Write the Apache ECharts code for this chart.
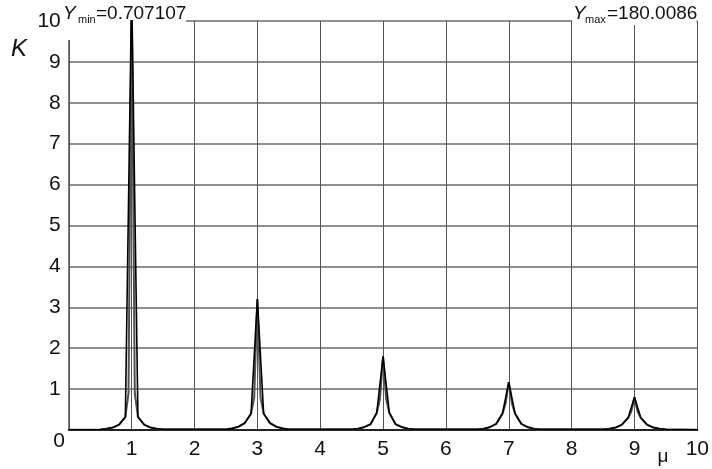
<!DOCTYPE html>
<html>
<head>
<meta charset="utf-8">
<script src="https://cdn.jsdelivr.net/npm/echarts@6/dist/echarts.min.js"></script>
<style>html,body{margin:0;padding:0;background:#fff}#c{width:712px;height:469px}</style>
</head>
<body>
<div id="c"></div>
<script>
// Tick labels
var xTicks = [1, 2, 3, 4, 5, 6, 7, 8, 9, 10];
var yTicks = [1, 2, 3, 4, 5, 6, 7, 8, 9, 10];
// Outer curve (coarse sampling) : [mu, K]
var curveCoarse = [
  [0,0.005],[0.5,0.01],[0.6,0.03],[0.7,0.06],[0.8,0.13],[0.9,0.32],[1.0,10.8],[1.1,0.32],[1.2,0.13],[1.3,0.06],[1.4,0.03],[1.5,0.015],
  [2.5,0.015],[2.6,0.04],[2.7,0.08],[2.8,0.17],[2.9,0.4],[3.0,3.2],[3.1,0.4],[3.2,0.17],[3.3,0.08],[3.4,0.04],[3.5,0.015],
  [4.5,0.015],[4.6,0.03],[4.7,0.07],[4.8,0.14],[4.9,0.42],[5.0,1.8],[5.1,0.42],[5.2,0.14],[5.3,0.07],[5.4,0.03],[5.5,0.015],
  [6.5,0.015],[6.6,0.03],[6.7,0.07],[6.8,0.15],[6.9,0.4],[7.0,1.17],[7.1,0.4],[7.2,0.15],[7.3,0.07],[7.4,0.03],[7.5,0.015],
  [8.5,0.015],[8.6,0.03],[8.7,0.06],[8.8,0.13],[8.9,0.3],[9.0,0.8],[9.1,0.3],[9.2,0.13],[9.3,0.06],[9.4,0.03],[9.5,0.015],[10,0.005]
];
// Inner curve (finer sampling near the peaks)
var curveFine = [
  [0,0.005],[0.5,0.01],[0.6,0.03],[0.7,0.06],[0.8,0.13],[0.9,0.32],[0.95,0.9],[1.0,10.8],[1.05,0.9],[1.1,0.32],[1.2,0.13],[1.3,0.06],[1.4,0.03],[1.5,0.015],
  [2.5,0.015],[2.6,0.04],[2.7,0.08],[2.8,0.17],[2.9,0.4],[2.95,0.8],[3.0,3.2],[3.05,0.8],[3.1,0.4],[3.2,0.17],[3.3,0.08],[3.4,0.04],[3.5,0.015],
  [4.5,0.015],[4.6,0.03],[4.7,0.07],[4.8,0.14],[4.9,0.42],[4.95,0.75],[5.0,1.8],[5.05,0.75],[5.1,0.42],[5.2,0.14],[5.3,0.07],[5.4,0.03],[5.5,0.015],
  [6.5,0.015],[6.6,0.03],[6.7,0.07],[6.8,0.15],[6.9,0.4],[6.95,0.65],[7.0,1.17],[7.05,0.65],[7.1,0.4],[7.2,0.15],[7.3,0.07],[7.4,0.03],[7.5,0.015],
  [8.5,0.015],[8.6,0.03],[8.7,0.06],[8.8,0.13],[8.9,0.3],[8.95,0.45],[9.0,0.8],[9.05,0.45],[9.1,0.3],[9.2,0.13],[9.3,0.06],[9.4,0.03],[9.5,0.015],[10,0.005]
];
var yMinText = '=0.707107';
var yMaxText = '=180.0086';

var chart = echarts.init(document.getElementById('c'), null, {renderer: 'canvas'});
var FONT = 'Liberation Sans, Arial, sans-serif';
chart.setOption({
  animation: false,
  backgroundColor: '#fff',
  grid: {left: 68.8, right: 14, top: 21, bottom: 39, containLabel: false},
  xAxis: {
    type: 'value', min: 0, max: 10, interval: 1,
    axisLine: {show: true, onZero: false, lineStyle: {color: '#222', width: 2}},
    axisTick: {show: false},
    axisLabel: {
      color: '#111', fontSize: 21, fontFamily: FONT, margin: 9,
      formatter: function (v) { return xTicks.indexOf(v) >= 0 ? String(v) : ''; }
    },
    splitLine: {show: true, lineStyle: {color: '#555', width: 1}}
  },
  yAxis: {
    type: 'value', min: 0, max: 10, interval: 1,
    axisLine: {show: true, lineStyle: {color: '#555', width: 1.5}},
    axisTick: {show: false},
    axisLabel: {
      color: '#111', fontSize: 21, fontFamily: FONT, margin: 8,
      formatter: function (v) { return yTicks.indexOf(v) >= 0 ? String(v) : ''; }
    },
    splitLine: {show: true, lineStyle: {color: '#6a6a6a', width: 1.5}}
  },
  series: [
    {
      type: 'line', data: curveFine, symbol: 'none', clip: true, z: 2,
      lineStyle: {color: '#505050', width: 2}
    },
    {
      type: 'line', data: curveCoarse, symbol: 'none', clip: true, z: 3,
      lineStyle: {color: '#000', width: 1.6}
    }
  ],
  graphic: [
    {type: 'rect', z: 1, shape: {x: 62, y: 0, width: 124, height: 40}, style: {fill: '#fff'}},
    {type: 'rect', z: 1, shape: {x: 572, y: 0, width: 124.5, height: 25}, style: {fill: '#fff'}},
    {type: 'text', z: 5, left: 11, top: 37, style: {text: 'K', font: 'italic 24px ' + FONT, fill: '#111'}},
    {type: 'text', z: 5, style: {x: 65, y: 441, text: '0', font: '21px ' + FONT, fill: '#111', align: 'right', verticalAlign: 'middle'}},
    {type: 'text', z: 5, style: {x: 663, y: 457, text: 'μ', font: '19px ' + FONT, fill: '#111', align: 'center', verticalAlign: 'middle'}},
    {type: 'text', z: 1, style: {x: 63, y: 14, text: 'Y', font: 'italic 19px ' + FONT, fill: '#111', verticalAlign: 'middle'}},
    {type: 'text', z: 1, style: {x: 78, y: 20, text: 'min', font: '11px ' + FONT, fill: '#111', verticalAlign: 'middle'}},
    {type: 'text', z: 1, style: {x: 96, y: 14, text: yMinText, font: '19px ' + FONT, fill: '#111', verticalAlign: 'middle'}},
    {type: 'text', z: 1, style: {x: 573, y: 14, text: 'Y', font: 'italic 19px ' + FONT, fill: '#111', verticalAlign: 'middle'}},
    {type: 'text', z: 1, style: {x: 585, y: 20, text: 'max', font: '11px ' + FONT, fill: '#111', verticalAlign: 'middle'}},
    {type: 'text', z: 1, style: {x: 607, y: 14, text: yMaxText, font: '19px ' + FONT, fill: '#111', verticalAlign: 'middle'}}
  ]
});
</script>
</body>
</html>
